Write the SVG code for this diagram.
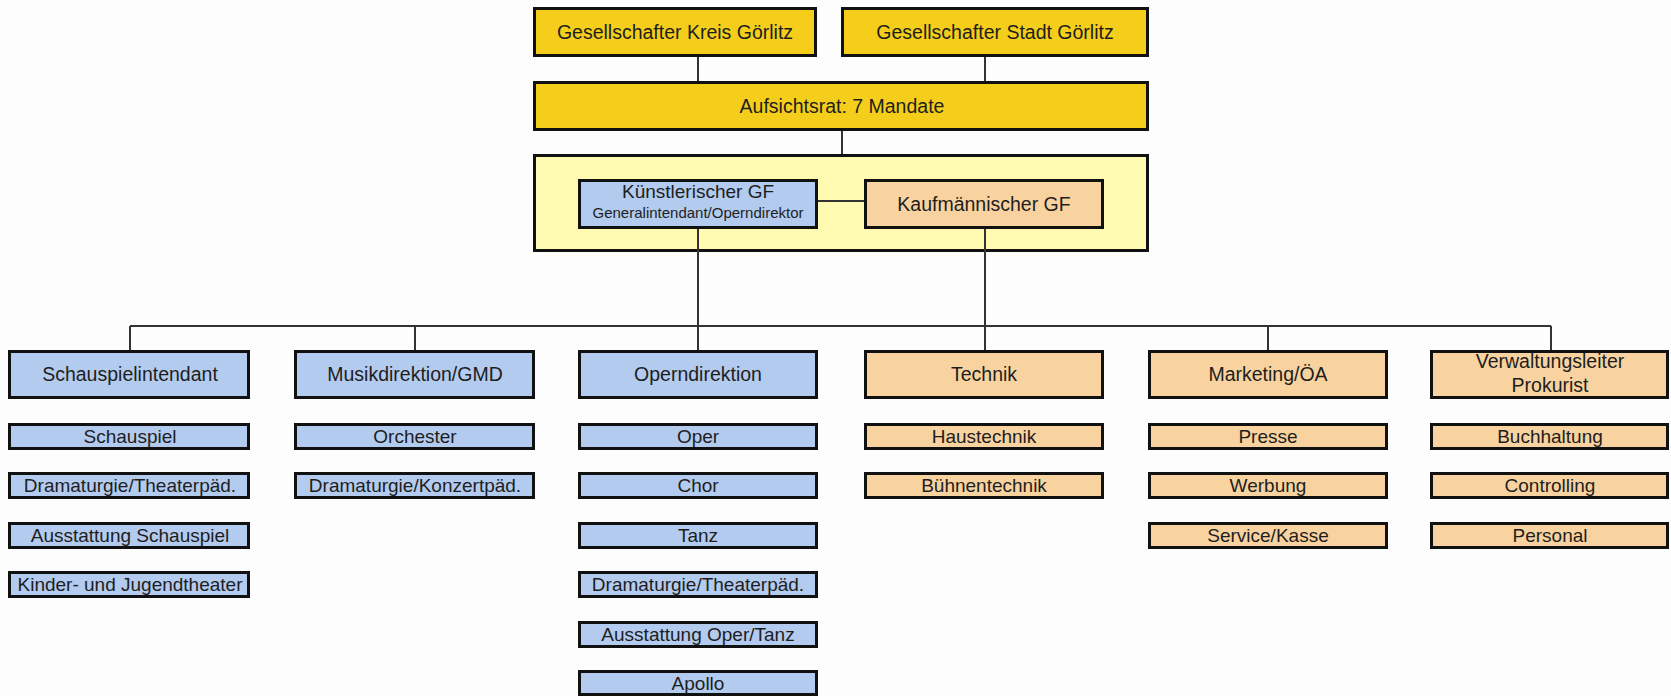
<svg xmlns="http://www.w3.org/2000/svg" width="1671" height="696" viewBox="0 0 1671 696">
<style>
.b{stroke:#111;stroke-width:3}
.y{fill:#F5CE1C}
.c{fill:#FFFAB2}
.bl{fill:#B3CBEE}
.or{fill:#F8D3A0}
text{font-family:"Liberation Sans",Arial,sans-serif;text-anchor:middle;fill:#1e1e1e}
.h{font-size:19.5px}
.s{font-size:19px}
.sm{font-size:15px}
.ln{stroke:#333;stroke-width:2;fill:none}
</style>
<rect width="1671" height="696" fill="#FDFDFD"/>
<g id="geschaeftsfuehrung"><rect class="b c" x="534.5" y="155.5" width="613" height="95"/></g>
<g id="connectors">
<path class="ln" d="M698 57V81M985 57V81M842 131V154M818 201H864M698 229V350M985 229V350M130 326H1551M130 326V350M415 326V350M1268 326V350M1551 326V350"/>
</g>
<g id="kreis"><rect class="b y" x="534.5" y="8.5" width="281" height="47"/><text class="h" x="675" y="39">Gesellschafter Kreis Görlitz</text></g>
<g id="stadt"><rect class="b y" x="842.5" y="8.5" width="305" height="47"/><text class="h" x="995" y="39">Gesellschafter Stadt Görlitz</text></g>
<g id="aufsichtsrat"><rect class="b y" x="534.5" y="82.5" width="613" height="47"/><text class="h" x="842" y="113">Aufsichtsrat: 7 Mandate</text></g>
<g id="kuenstlerischer-gf"><rect class="b bl" x="579.5" y="180.5" width="237" height="47"/><text class="s" x="698" y="198">Künstlerischer GF</text><text class="sm" x="698" y="218">Generalintendant/Operndirektor</text></g>
<g id="kaufmaennischer-gf"><rect class="b or" x="865.5" y="180.5" width="237" height="47"/><text class="h" x="984" y="211">Kaufmännischer GF</text></g>

<g id="schauspielintendant"><rect class="b bl" x="9.5" y="351.5" width="239" height="46"/><text class="h" x="130" y="381">Schauspielintendant</text></g>
<g id="musikdirektion"><rect class="b bl" x="295.5" y="351.5" width="238" height="46"/><text class="h" x="415" y="381">Musikdirektion/GMD</text></g>
<g id="operndirektion"><rect class="b bl" x="579.5" y="351.5" width="237" height="46"/><text class="h" x="698" y="381">Operndirektion</text></g>
<g id="technik"><rect class="b or" x="865.5" y="351.5" width="237" height="46"/><text class="h" x="984" y="381">Technik</text></g>
<g id="marketing"><rect class="b or" x="1149.5" y="351.5" width="237" height="46"/><text class="h" x="1268" y="381">Marketing/ÖA</text></g>
<g id="verwaltungsleiter"><rect class="b or" x="1431.5" y="351.5" width="236" height="46"/><text class="h" x="1550" y="368">Verwaltungsleiter</text><text class="h" x="1550" y="392">Prokurist</text></g>

<g id="schauspiel"><rect class="b bl" x="9.5" y="424.5" width="239" height="24"/><text class="s" x="130" y="443">Schauspiel</text></g>
<g id="dramaturgie-schauspiel"><rect class="b bl" x="9.5" y="473.5" width="239" height="24"/><text class="s" x="130" y="492">Dramaturgie/Theaterpäd.</text></g>
<g id="ausstattung-schauspiel"><rect class="b bl" x="9.5" y="523.5" width="239" height="24"/><text class="s" x="130" y="542">Ausstattung Schauspiel</text></g>
<g id="kinder-jugendtheater"><rect class="b bl" x="9.5" y="572.5" width="239" height="24"/><text class="s" x="130" y="591">Kinder- und Jugendtheater</text></g>

<g id="orchester"><rect class="b bl" x="295.5" y="424.5" width="238" height="24"/><text class="s" x="415" y="443">Orchester</text></g>
<g id="dramaturgie-konzert"><rect class="b bl" x="295.5" y="473.5" width="238" height="24"/><text class="s" x="415" y="492">Dramaturgie/Konzertpäd.</text></g>

<g id="oper"><rect class="b bl" x="579.5" y="424.5" width="237" height="24"/><text class="s" x="698" y="443">Oper</text></g>
<g id="chor"><rect class="b bl" x="579.5" y="473.5" width="237" height="24"/><text class="s" x="698" y="492">Chor</text></g>
<g id="tanz"><rect class="b bl" x="579.5" y="523.5" width="237" height="24"/><text class="s" x="698" y="542">Tanz</text></g>
<g id="dramaturgie-oper"><rect class="b bl" x="579.5" y="572.5" width="237" height="24"/><text class="s" x="698" y="591">Dramaturgie/Theaterpäd.</text></g>
<g id="ausstattung-oper"><rect class="b bl" x="579.5" y="622.5" width="237" height="24"/><text class="s" x="698" y="641">Ausstattung Oper/Tanz</text></g>
<g id="apollo"><rect class="b bl" x="579.5" y="671.5" width="237" height="23"/><text class="s" x="698" y="690">Apollo</text></g>

<g id="haustechnik"><rect class="b or" x="865.5" y="424.5" width="237" height="24"/><text class="s" x="984" y="443">Haustechnik</text></g>
<g id="buehnentechnik"><rect class="b or" x="865.5" y="473.5" width="237" height="24"/><text class="s" x="984" y="492">Bühnentechnik</text></g>

<g id="presse"><rect class="b or" x="1149.5" y="424.5" width="237" height="24"/><text class="s" x="1268" y="443">Presse</text></g>
<g id="werbung"><rect class="b or" x="1149.5" y="473.5" width="237" height="24"/><text class="s" x="1268" y="492">Werbung</text></g>
<g id="service-kasse"><rect class="b or" x="1149.5" y="523.5" width="237" height="24"/><text class="s" x="1268" y="542">Service/Kasse</text></g>

<g id="buchhaltung"><rect class="b or" x="1431.5" y="424.5" width="236" height="24"/><text class="s" x="1550" y="443">Buchhaltung</text></g>
<g id="controlling"><rect class="b or" x="1431.5" y="473.5" width="236" height="24"/><text class="s" x="1550" y="492">Controlling</text></g>
<g id="personal"><rect class="b or" x="1431.5" y="523.5" width="236" height="24"/><text class="s" x="1550" y="542">Personal</text></g>
</svg>
